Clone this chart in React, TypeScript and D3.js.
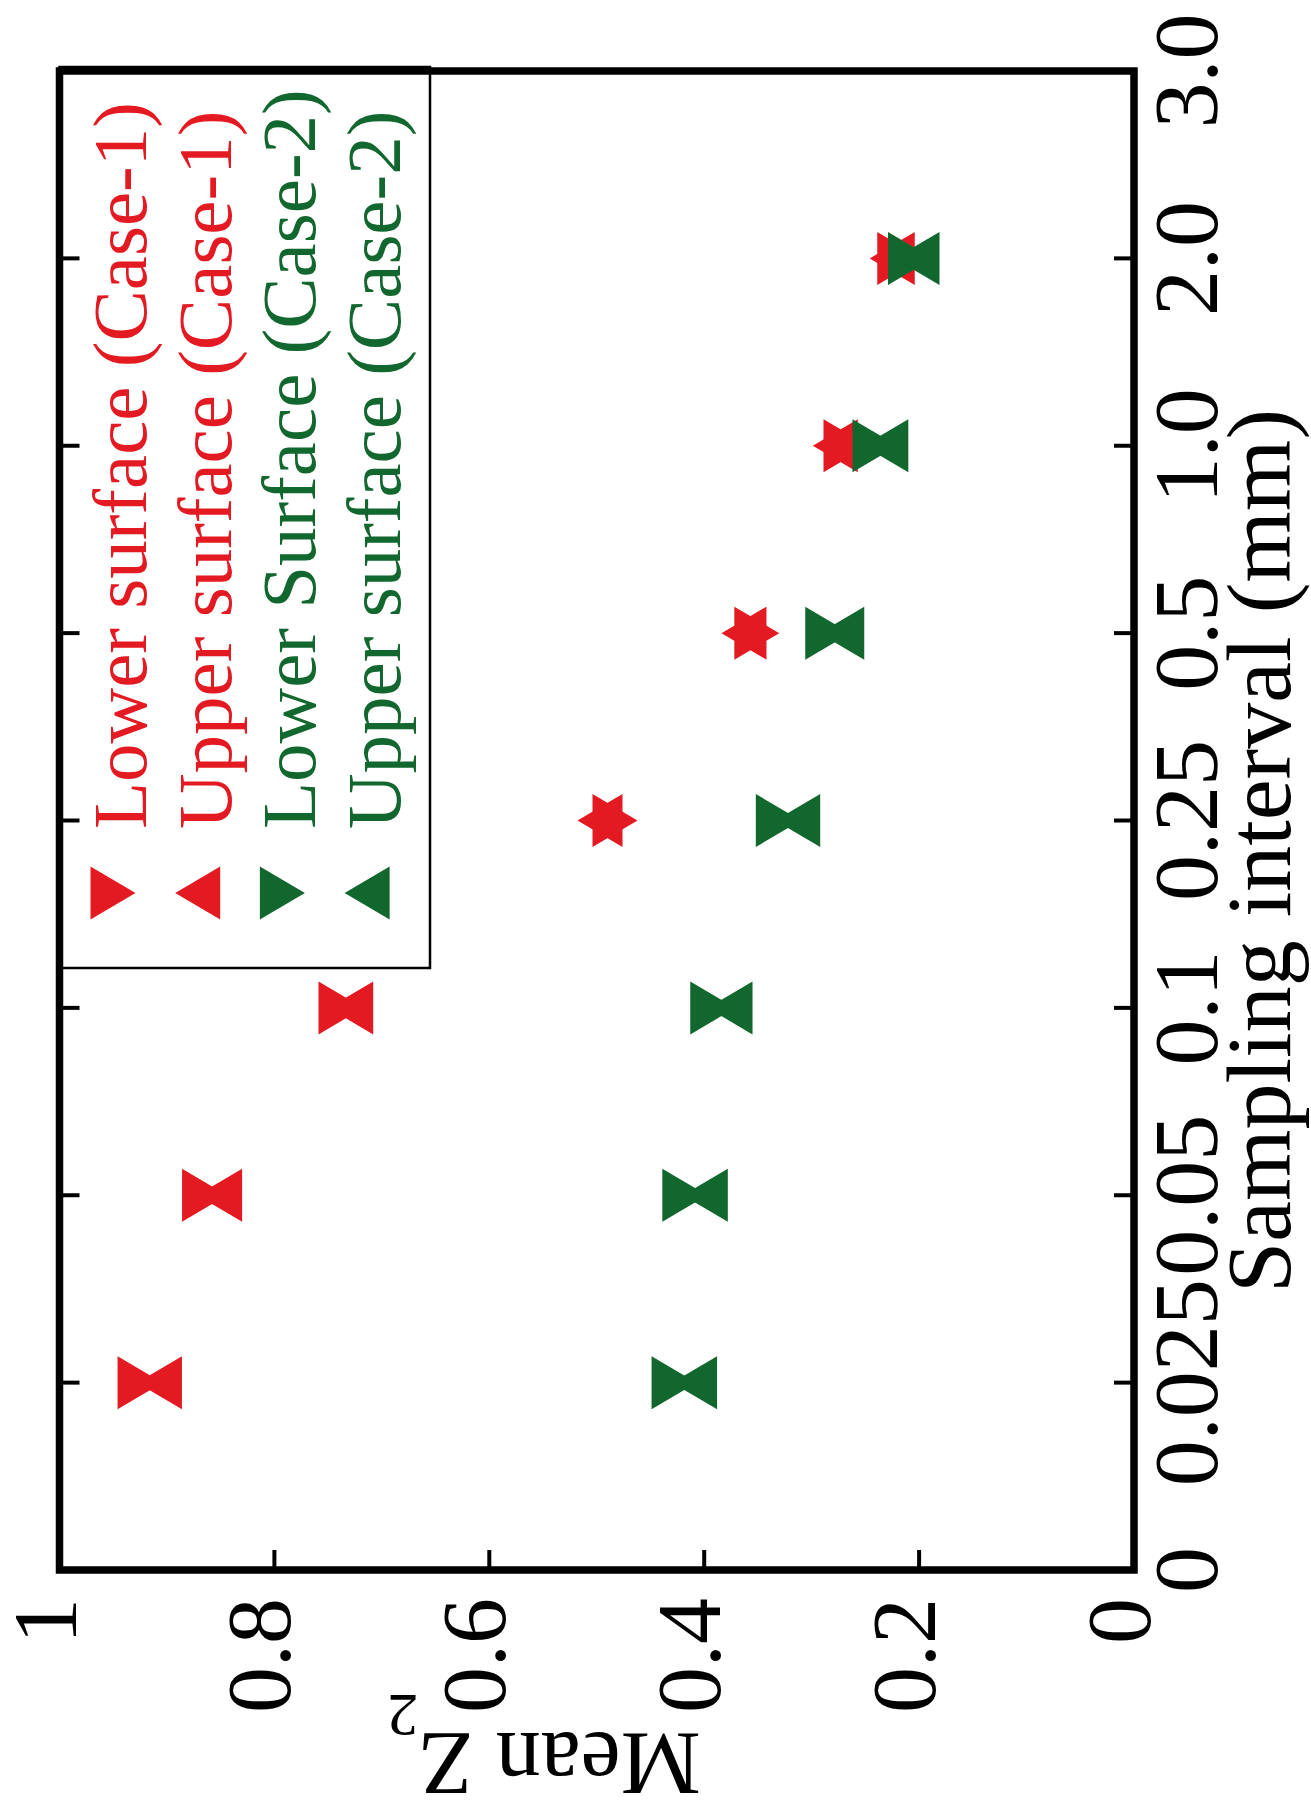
import React from 'react';
import * as d3 from 'd3';

// ---- data ----
const categories = ["0", "0.025", "0.05", "0.1", "0.25", "0.5", "1.0", "2.0", "3.0"];
const sampleCats = ["0.025", "0.05", "0.1", "0.25", "0.5", "1.0", "2.0"];
const lowerCase1 = [0.932, 0.872, 0.745, 0.49, 0.358, 0.275, 0.225];
const upperCase1 = [0.9, 0.844, 0.722, 0.49, 0.356, 0.271, 0.218];
const lowerCase2 = [0.435, 0.425, 0.399, 0.338, 0.292, 0.248, 0.215];
const upperCase2 = [0.402, 0.392, 0.369, 0.306, 0.265, 0.224, 0.195];
const yTicks = [0, 0.2, 0.4, 0.6, 0.8, 1];
const yTickLabels = ["0", "0.2", "0.4", "0.6", "0.8", "1"];
const seriesNames = [
  "Lower surface (Case-1)",
  "Upper surface (Case-1)",
  "Lower Surface (Case-2)",
  "Upper surface (Case-2)",
];

const RED = "#e41a22";
const GREEN = "#12672f";
const FONT_STYLE = { fontFamily: '"Liberation Serif", "DejaVu Serif", serif' };

const series = [
  { name: seriesNames[0], values: lowerCase1, color: RED, dir: 1 },
  { name: seriesNames[1], values: upperCase1, color: RED, dir: -1 },
  { name: seriesNames[2], values: lowerCase2, color: GREEN, dir: 1 },
  { name: seriesNames[3], values: upperCase2, color: GREEN, dir: -1 },
];

// chart is rotated 90deg counter-clockwise: x-axis runs upward on the right
const LEFT = 59.5, RIGHT = 1134, TOP = 71, BOTTOM = 1570;
const catScale = d3.scalePoint<string>().domain(categories).range([BOTTOM, TOP]);
const valScale = d3.scaleLinear().domain([0, 1]).range([RIGHT, LEFT]);

const TW = 45; // triangle depth (along pointing direction)
const TH = 53; // triangle base length

function tri(cx: number, cy: number, dir: number): string {
  const p = d3.path();
  p.moveTo(cx + dir * (2 * TW) / 3, cy);
  p.lineTo(cx - dir * TW / 3, cy - TH / 2);
  p.lineTo(cx - dir * TW / 3, cy + TH / 2);
  p.closePath();
  return p.toString();
}

export default function App() {
  const legendBase0 = 146;
  const legendStep = 84.7;
  return (
    <svg
      width={1311}
      height={1810}
      style={{ position: 'absolute', left: 0, top: 0, background: '#fff' }}
    >
      <rect x={0} y={0} width={1311} height={1810} fill="#fff" />

      {/* markers */}
      {series.map((s, si) => (
        <g key={si} fill={s.color}>
          {s.values.map((v, i) => (
            <path key={i} d={tri(valScale(v), catScale(sampleCats[i]) as number, s.dir)} />
          ))}
        </g>
      ))}

      {/* legend */}
      <rect x={LEFT} y={67} width={430 - LEFT} height={968 - 67} fill="none" stroke="#000" strokeWidth={2.5} />
      {series.map((s, si) => {
        const base = legendBase0 + si * legendStep;
        const mc = base - 33;
        return (
          <g key={si}>
            <path d={tri(mc - s.dir * 7.5, 893, s.dir)} fill={s.color} />
            <text
              transform={`translate(${base},829) rotate(-90)`}
              fontSize={77}
              fill={s.color}
              textAnchor="start"
              style={FONT_STYLE}
            >
              {s.name}
            </text>
          </g>
        );
      })}

      {/* ticks: category axis on right (inward), mirrored on left */}
      {categories.slice(1, -1).map((c) => {
        const y = catScale(c) as number;
        return (
          <g key={c} stroke="#000" strokeWidth={4}>
            <line x1={RIGHT} x2={RIGHT - 20} y1={y} y2={y} />
            <line x1={LEFT} x2={LEFT + 20} y1={y} y2={y} />
          </g>
        );
      })}
      {/* value ticks on bottom (inward) */}
      {yTicks.slice(1, -1).map((t) => {
        const x = valScale(t);
        return <line key={t} x1={x} x2={x} y1={BOTTOM} y2={BOTTOM - 20} stroke="#000" strokeWidth={4} />;
      })}

      {/* frame */}
      <rect x={LEFT} y={TOP} width={RIGHT - LEFT} height={BOTTOM - TOP} fill="none" stroke="#000" strokeWidth={7.5} />

      {/* category tick labels */}
      {categories.map((c) => (
        <text
          key={c}
          transform={`translate(1217,${catScale(c)}) rotate(-90)`}
          fontSize={92}
          textAnchor="middle"
          fill="#000"
          style={FONT_STYLE}
        >
          {c}
        </text>
      ))}

      {/* value tick labels */}
      {yTicks.map((t, i) => (
        <text
          key={t}
          transform={`translate(${valScale(t) - 15 + 31},1598) rotate(-90)`}
          fontSize={92}
          textAnchor="end"
          fill="#000"
          style={FONT_STYLE}
        >
          {yTickLabels[i]}
        </text>
      ))}

      {/* axis titles */}
      <text transform="translate(1290,851) rotate(-90)" fontSize={92} textAnchor="middle" fill="#000" style={FONT_STYLE}>
        Sampling interval (mm)
      </text>
      <text transform="translate(544,1733) rotate(180)" fontSize={90} textAnchor="middle" fill="#000" style={FONT_STYLE}>
        Mean Z<tspan fontSize={62} dy={38}>2</tspan>
      </text>
    </svg>
  );
}
